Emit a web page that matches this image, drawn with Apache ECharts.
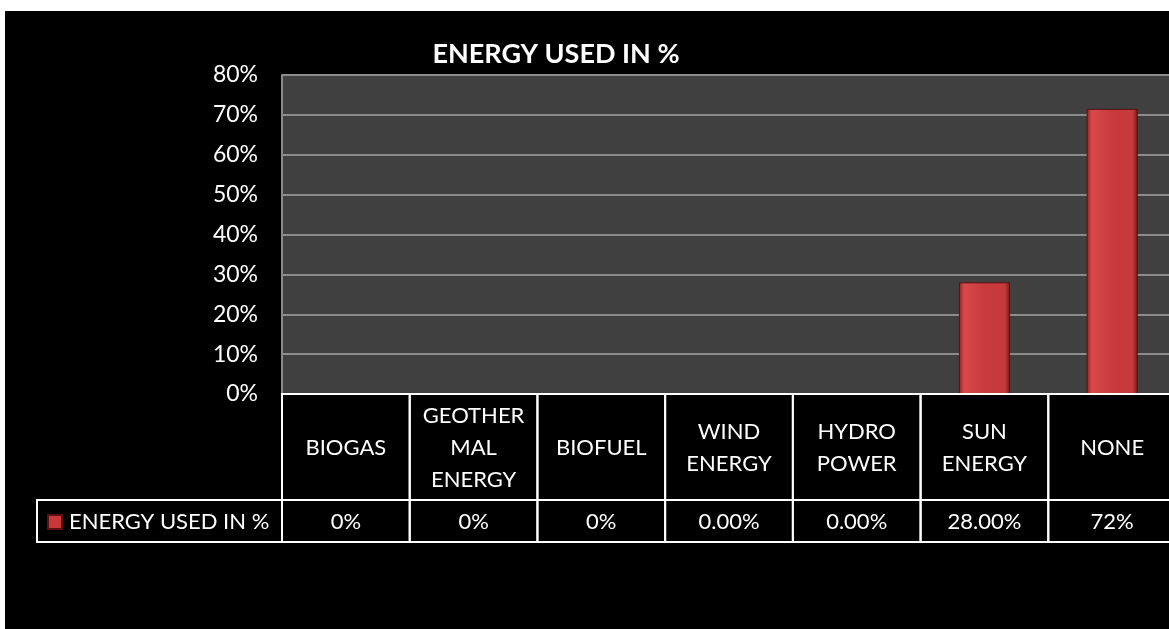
<!DOCTYPE html>
<html>
<head>
<meta charset="utf-8">
<script src="https://cdn.jsdelivr.net/npm/echarts@6/dist/echarts.min.js"></script>
<style>
  html, body { margin: 0; padding: 0; background: #ffffff; overflow: hidden; width: 1169px; height: 629px; }
  #chart { position: absolute; left: 5px; top: 11px; width: 1180px; height: 618px; background: #000000; }
</style>
</head>
<body>
<div id="chart"></div>
<script>
const seriesName = 'ENERGY USED IN %';
const categories = ['BIOGAS', 'GEOTHERMAL ENERGY', 'BIOFUEL', 'WIND ENERGY', 'HYDRO POWER', 'SUN ENERGY', 'NONE'];
const categoryLabels = ['BIOGAS', 'GEOTHER\nMAL\nENERGY', 'BIOFUEL', 'WIND\nENERGY', 'HYDRO\nPOWER', 'SUN\nENERGY', 'NONE'];
const values = [0, 0, 0, 0, 0, 28, 71.5];
const valueLabels = ['0%', '0%', '0%', '0.00%', '0.00%', '28.00%', '72%'];
const yTicks = [0, 10, 20, 30, 40, 50, 60, 70, 80];

const FONT = 'Lato, "Open Sans", sans-serif';
const HEADER_H = 106;
const VALUE_H = 42;
const GRID_LEFT = 277, GRID_TOP = 64, GRID_W = 894, GRID_H = 319;

const chart = echarts.init(document.getElementById('chart'), null, { renderer: 'canvas' });

const option = {
  backgroundColor: '#000000',
  animation: false,
  title: {
    text: 'ENERGY USED IN %',
    left: 546, top: 25, textAlign: 'center',
    textStyle: { color: '#ffffff', fontFamily: FONT, fontWeight: 'bold', fontSize: 27 }
  },
  legend: {
    data: [seriesName],
    left: 37, top: 495,
    icon: 'rect', itemWidth: 14, itemHeight: 14, itemGap: 6,
    textStyle: { color: '#ffffff', fontFamily: FONT, fontSize: 22, padding: [0, 0, 0, 2] },
    itemStyle: { color: '#c8383a' }
  },
  grid: { left: GRID_LEFT, top: GRID_TOP, width: GRID_W, height: GRID_H, show: true, backgroundColor: '#404040', borderWidth: 0 },
  xAxis: {
    type: 'category',
    data: categories,
    axisLine: { show: true, lineStyle: { color: '#ffffff', width: 2 } },
    axisTick: { show: false },
    axisLabel: { show: false },
    splitLine: { show: false }
  },
  yAxis: {
    type: 'value',
    min: yTicks[0], max: yTicks[yTicks.length - 1], interval: 10,
    axisLine: { show: true, lineStyle: { color: '#8a8a8a', width: 2 } },
    axisTick: { show: false },
    axisLabel: { color: '#ffffff', fontFamily: FONT, fontSize: 23, margin: 24, formatter: v => v + '%' },
    splitLine: { show: true, lineStyle: { color: '#8c8c8c', width: 2 } }
  },
  series: [
    {
      name: seriesName,
      type: 'bar',
      data: values,
      barWidth: '40%',
      itemStyle: {
        color: new echarts.graphic.LinearGradient(0, 0, 1, 0, [
          { offset: 0, color: '#8e2022' },
          { offset: 0.1, color: '#d9494a' },
          { offset: 0.5, color: '#c83a3c' },
          { offset: 0.9, color: '#c63a3b' },
          { offset: 1, color: '#7a1a1c' }
        ]),
        borderColor: '#5a1012', borderWidth: 1
      }
    },
    {
      name: 'table',
      type: 'custom',
      silent: true,
      clip: false,
      z: 5,
      data: categories.map((c, i) => [i, 0]),
      renderItem: function (params, api) {
        const i = params.dataIndex;
        const c = api.coord([i, 0]);
        const w = api.size([1, 0])[0];
        const x0 = c[0] - w / 2;
        const y0 = c[1];
        return {
          type: 'group',
          children: [
            { type: 'rect', shape: { x: x0, y: y0, width: w, height: HEADER_H }, style: { fill: 'none', stroke: '#ffffff', lineWidth: 2 } },
            { type: 'text', style: { text: categoryLabels[i], x: c[0], y: y0 + HEADER_H / 2 + 1, align: 'center', verticalAlign: 'middle', fill: '#ffffff', fontFamily: FONT, fontSize: 22, lineHeight: 32 } },
            { type: 'rect', shape: { x: x0, y: y0 + HEADER_H, width: w, height: VALUE_H }, style: { fill: 'none', stroke: '#ffffff', lineWidth: 2 } },
            { type: 'text', style: { text: valueLabels[i], x: c[0], y: y0 + HEADER_H + VALUE_H / 2 + 1, align: 'center', verticalAlign: 'middle', fill: '#ffffff', fontFamily: FONT, fontSize: 22 } }
          ]
        };
      }
    }
  ],
  graphic: [
    {
      type: 'rect',
      shape: { x: GRID_LEFT - 245, y: GRID_TOP + GRID_H + HEADER_H, width: 245, height: VALUE_H },
      style: { fill: 'none', stroke: '#ffffff', lineWidth: 2 },
      silent: true
    }
  ]
};
chart.setOption(option);
</script>
</body>
</html>
